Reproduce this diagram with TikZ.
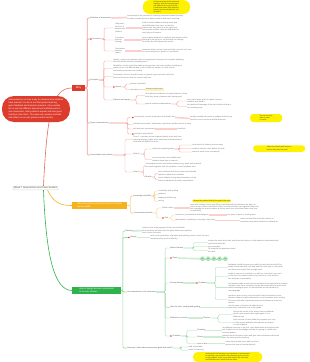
\documentclass[tikz,border=0pt]{standalone}
\usepackage{fontspec}
\setmainfont{Liberation Sans}
\definecolor{cred}{HTML}{DD3B2C}
\definecolor{lred}{HTML}{F3A19B}
\definecolor{pred}{HTML}{F9D0CC}
\definecolor{corg}{HTML}{F5B21F}
\definecolor{lorg}{HTML}{F8CF7E}
\definecolor{cgrn}{HTML}{2EB24B}
\definecolor{lgrn}{HTML}{9FD9A9}
\definecolor{pgrn}{HTML}{CDEDD2}
\definecolor{mgrn}{HTML}{B2E4B9}
\definecolor{cyel}{HTML}{FFF200}
\definecolor{cbeige}{HTML}{FCEFC2}
\definecolor{ctxt}{HTML}{737373}
\definecolor{clab}{HTML}{505050}
\newcommand\mytiny{\fontsize{1.9}{2.4}\selectfont}
\newcommand\mycall{\fontsize{1.8}{2.1}\selectfont}
\newcommand\conn[4][2]{\draw[#2,rounded corners=1.2pt] (#3.east) -- ++(#1,0) |- (#4.west);}
\tikzset{
 tx/.style={anchor=west,inner sep=0.15pt,font=\mytiny,text=ctxt,align=left},
 lb/.style={tx,text=clab},
 ic/.style={anchor=west,fill=cred,inner sep=0pt,minimum size=1.4pt,rounded corners=0.3pt},
 rb/.style={draw=lred,line width=0.4pt},
 rk/.style={draw=pred,line width=1.6pt},
 ob/.style={draw=lorg,line width=0.4pt},
 gb/.style={draw=lgrn,line width=0.4pt},
 gk/.style={draw=pgrn,line width=1.6pt},
 ycall/.style={fill=cyel,rounded corners=4pt,font=\mycall,text=black!75,align=left,inner sep=0.6pt},
 mainbox/.style={text=white,inner sep=0.8pt,align=left,font=\fontsize{2.2}{2.7}\selectfont},
 pill/.style={fill=mgrn,draw=lgrn,line width=0.2pt,rounded corners=1.6pt,minimum width=4.6pt,minimum height=4pt,inner sep=0.2pt,font=\fontsize{1.2}{1.4}\selectfont,text=cgrn!60!black},
}
\begin{document}
\begin{tikzpicture}[x=1pt,y=-1pt]
\useasboundingbox (0,0) rectangle (310,362);

% ---------- root and main branches ----------
\node[draw=black!15,fill=white,rounded corners=1pt,inner sep=1pt,font=\fontsize{2.5}{3}\selectfont,text=black!70] (root) at (35.5,188) {Week 7 Assessment and Case Studies};
\node[mainbox,fill=cred,font=\fontsize{2.6}{3}\selectfont,minimum width=13pt,minimum height=5.5pt,align=center] (why) at (78.5,88) {Why};
\node[mainbox,fill=corg,minimum width=55pt,minimum height=6.5pt,anchor=west] (org) at (72,205.5) {What should be assessed and which methods\\can be used?};
\node[mainbox,fill=cgrn,minimum width=49pt,minimum height=6.5pt,anchor=west] (grn) at (72,290.5) {How to design and use assessment\\in our own classes};

\draw[draw=cred!75,line width=0.6pt] ([xshift=8pt]root.north) .. controls (47,115) and (52,88) .. (why.west);
\draw[draw=corg,line width=0.6pt] ([xshift=12pt]root.south) .. controls (54,203) and (60,205.5) .. (org.west);
\draw[draw=cgrn,line width=0.6pt] ([xshift=8pt]root.south) .. controls (46,255) and (54,290.5) .. (grn.west);

\node[mainbox,fill=cred,rounded corners=12pt,minimum width=68pt,minimum height=26pt,font=\fontsize{2.2}{3}\selectfont] (note) at (36,109) {Assessment is not only a way to measure what students\\have learned; it is also a tool that guides teaching,\\gives feedback and motivates learners. Case studies\\let us see how different assessment methods work in\\real classrooms, what problems appear and how good\\teachers solve them. This week we compare methods\\and reflect on our own practice and its results.};

% ---------- red branch ----------
\node[ycall,minimum width=47pt,minimum height=13.6pt,rounded corners=6pt] (Y1) at (166.5,7) {Assessment should be planned\\together with the learning goals,\\not added at the end of a unit.\\Good tasks show both what the\\learner knows and what he can\\do with it.};

\node[lb] (A) at (90,18) {Definition of assessment};
\node[tx] (A1) at (127,17.5) {Assessment is the process of collecting information about learning\\in order to make decisions about students and about teaching.};
\conn{rb,line width=0.6pt}{why}{A}
\draw[rk] (A.east) -- (A1.west);

\node[ic] (Bi) at (90,39) {};
\node[lb] (B) at ([xshift=0.4pt]Bi.east) {Functions};
\conn{rb,line width=0.6pt}{why}{Bi}
\node[tx] (B1) at (115,28) {Diagnostic\\function of\\assessment\\(before)};
\node[tx] (B2) at (115,40) {Formative\\function\\(during)};
\node[tx] (B3) at (115,51) {Summative\\function\\(after)};
\conn[3]{rb}{B}{B1}
\conn[3]{rb}{B}{B2}
\conn[3]{rb}{B}{B3}
\node[tx] (T1) at (142,28) {finds out what students already know and\\what difficulties they have, so that the\\teacher can plan lessons at the right level\\and choose suitable materials and tasks for\\each group of learners};
\node[tx] (T2) at (142,40) {gives regular feedback to students and teachers while\\learning is still going on, so that both can change\\what they do and improve the results};
\node[tx] (T3) at (142,51) {measures what has been learned at the end of a unit, term\\or course and gives a grade or a certificate};
\draw[rk] (B1.east) -- (T1.west);
\draw[rk] (B2.east) -- (T2.west);
\draw[rk] (B3.east) -- (T3.west);

\node[lb] (C) at (90,80) {Principles};
\conn{rb,line width=0.6pt}{why}{C}
\node[tx] (D1) at (113,61) {Validity: a test must measure what it is supposed to measure, for example speaking\\skills should be tested by speaking tasks};
\node[tx] (D2) at (113,68.5) {Reliability: results should be stable and consistent; the same student should get a\\similar score on a different day or with a different marker, so clear criteria\\and marking schemes are needed};
\node[tx] (D3) at (113,76.5) {Practicality: the test should be easy to prepare, give and mark within the\\time and resources that the school really has};
\node[ic] (Di) at (113,87) {};
\node[lb] (D) at ([xshift=0.4pt]Di.east) {Impact};
\node[lb] (E) at (113,100) {Fairness and equity};
\conn[5]{rb}{C}{D1}
\conn[5]{rb}{C}{D2}
\conn[5]{rb}{C}{D3}
\conn[5]{rb}{C}{Di}
\conn[5]{rb}{C}{E}
\node[tx] (D4a) at (130,84) {positive washback};
\node[tx] (D4b) at (130,89.5) {motivation};
\conn[4]{rb}{D}{D4a}
\conn[4]{rb}{D}{D4b}
\node[tx,fill=cbeige,inner sep=0.8pt] (Y6) at (145,89.5) {learners study more};
\draw[rk] (D4b.east) -- (Y6.west);
\node[tx] (E1) at (145,95.5) {all students should have an equal chance to show\\what they know, whatever their background};
\node[tx] (E2) at (145,104) {special needs and adaptations};
\conn[6]{rb}{E}{E1}
\conn[6]{rb}{E}{E2}
\node[tx] (F1) at (187,101) {extra time, larger print or a quiet room for\\students who need it};
\node[tx] (F2) at (187,106.5) {the tasks and language of the test should not favour\\one cultural group};
\conn[6]{rb}{E2}{F1}
\conn[6]{rb}{E2}{F2}

\node[lb] (F) at (90,123) {Types of assessment};
\conn{rb,line width=0.6pt}{why}{F}
\node[ic] (G1i) at (132,117.5) {};
\node[tx] (G1) at ([xshift=0.4pt]G1i.east) {formal tests, exams and quizzes with fixed rules};
\node[tx] (G2) at (133,124.5) {informal assessment: observation, questions and discussion in class};
\node[tx] (G3) at (133,129) {self and peer assessment};
\node[ic] (G4i) at (132,134) {};
\node[tx] (G4) at ([xshift=0.4pt]G4i.east) {portfolios and projects};
\conn[19]{rb}{F}{G1i}
\conn[19]{rb}{F}{G2}
\conn[19]{rb}{F}{G3}
\conn[19]{rb}{F}{G4i}
\node[tx] (G1b) at (190,118.5) {usually marked with points or grades and they are\\used for school reports and final decisions};
\draw[rk] (G1.east) -- (G1b.west);
\node[ycall,anchor=west,minimum width=32pt,minimum height=8pt,rounded corners=3pt] (Y2) at (250,118) {Do not test only\\what is easy\\to mark!};
\node[tx] (G3b) at (177,129) {checklists};
\draw[rk] (G3.east) -- (G3b.west);

\node[lb] (H) at (90,155) {Case studies from schools};
\conn{rb,line width=0.6pt}{why}{H}
\node[tx] (H1) at (133,139.5) {Case 1: a primary school replaced weekly tests with short\\learning journals; pupils wrote what they had learned and\\what was still difficult for them};
\node[lb] (H2) at (133,154) {Case 2};
\node[lb] (H3) at (133,172) {Case 3};
\conn[12]{rb}{H}{H1}
\conn[12]{rb}{H}{H2}
\conn[12]{rb}{H}{H3}
\node[tx] (H2a) at (152,149) {rubrics for speaking tasks};
\node[tx] (H2b) at (152,159.5) {scores became more reliable and\\students knew how to improve};
\conn[5]{rb}{H2}{H2a}
\conn[5]{rb}{H2}{H2b}
\node[tx] (H2a1) at (192,145) {clear levels for fluency and accuracy};
\node[tx] (H2a2) at (192,148.5) {students see the rubric before the task};
\node[tx] (H2a3) at (192,152) {teachers mark more consistently};
\conn[5]{rb}{H2a}{H2a1}
\conn[5]{rb}{H2a}{H2a2}
\conn[5]{rb}{H2a}{H2a3}
\node[ycall,anchor=west,minimum width=52pt,minimum height=6.5pt,rounded corners=3pt] (Y3) at (253,148.5) {Share the criteria with learners\\before they start the work!};
\node[tx] (H3a) at (145,165.5) {A secondary school used online quizzes every week and looked at\\the results together with the students in short feedback talks};
\node[lb] (H3b) at (145,177) {Results};
\conn[4]{rb}{H3}{H3a}
\conn[4]{rb}{H3}{H3b}
\node[tx] (H3b1) at (158,173.5) {more students did their homework and asked\\questions about their mistakes};
\node[tx] (H3b2) at (158,179.5) {some students only guessed answers, so the\\teachers added short written explanations};
\conn[3]{rb}{H3b}{H3b1}
\conn[3]{rb}{H3b}{H3b2}

% ---------- orange branch ----------
\node[lb] (O1) at (133,196) {Knowledge and skills};
\node[lb] (O2) at (134,213) {Assessment methods};
\conn[3]{ob,line width=0.6pt}{org}{O1}
\conn[3]{ob,line width=0.6pt}{org}{O2}
\node[tx] (O1a) at (158,191) {vocabulary and spelling};
\node[tx] (O1b) at (158,194.5) {grammar};
\node[tx] (O1c) at (158,198) {reading and listening};
\node[tx] (O1d) at (158,201.5) {writing};
\conn[3]{ob}{O1}{O1a}
\conn[3]{ob}{O1}{O1b}
\conn[3]{ob}{O1}{O1c}
\conn[3]{ob}{O1}{O1d}
\node[tx] (O2a) at (162,208) {Written tasks};
\node[ic] (O2bi) at (162,218) {};
\node[lb] (O2b) at ([xshift=0.4pt]O2bi.east) {Oral};
\conn[4]{ob}{O2}{O2a}
\conn[4]{ob}{O2}{O2bi}
\node[ycall,anchor=west,rounded corners=1.5pt] (Y4) at (192,201) {Choose the method that fits the goal of the task};
\node[tx,font=\fontsize{1.9}{2.3}\selectfont] (O2at) at (190,208) {tests with multiple choice, gap filling, matching and short answers are quick to\\mark; essays, letters and reports show how well students can organise ideas and\\use language for a real purpose, but they need clear criteria and take more time\\to mark fairly};
\draw[rk] (O2a.east) -- (O2at.west);
\node[tx] (O2b1) at (175,215) {interviews, presentations and dialogues};
\node[tx] (O2b2) at (175,220.5) {observation of speaking in everyday class work};
\conn[3]{ob}{O2b}{O2b1}
\conn[3]{ob}{O2b}{O2b2}
\node[tx] (O2b1t) at (227,215) {role plays in pairs or small groups};
\node[tx] (O2b2t) at (240,220.5) {notes and checklists help the teacher to\\remember what each student can already do};
\draw[rk] (O2b1.east) -- (O2b1t.west);
\draw[rk] (O2b2.east) -- (O2b2t.west);

% ---------- green branch ----------
\node[lb] (GR1) at (125,231) {Planning};
\node[ic] (GR2i) at (128,237.5) {};
\node[lb] (GR2) at ([xshift=0.4pt]GR2i.east) {Design};
\node[lb] (K) at (127,292) {Use assessment in the classroom};
\node[lb] (GRL) at (127,348) {Summary: what makes assessment good and useful?};
\conn[1.5]{gb,line width=0.6pt}{grn}{GR1}
\conn[1.5]{gb,line width=0.6pt}{grn}{GR2i}
\conn[1.5]{gb,line width=0.6pt}{grn}{K}
\conn[1.5]{gb,line width=0.6pt}{grn}{GRL}
\node[tx] (GR1t) at (142,230.5) {start from the learning goals of the unit and decide\\what evidence will show that the goals have been reached;\\then choose the tasks};
\draw[gk] (GR1.east) -- (GR1t.west);
\node[tx] (GR2t) at (150,237.5) {write clear instructions, examples and marking criteria; check the time\\needed and the level of difficulty};
\draw[gk] (GR2.east) -- (GR2t.west);

\node[lb] (K1) at (170,248) {Before the task};
\node[ic] (K2i) at (170,258) {};
\node[lb] (K2) at ([xshift=0.4pt]K2i.east) {Steps};
\node[lb] (K3) at (170,283) {During the task};
\node[lb] (K4) at (170,307.3) {After the task: marking and grading};
\node[lb] (K5) at (170,318) {Reflection on results};
\node[ic] (K6i) at (170,336) {};
\node[lb] (K6) at ([xshift=0.4pt]K6i.east) {Problems};
\conn[9]{gb}{K}{K1}
\conn[9]{gb}{K}{K2i}
\conn[9]{gb}{K}{K3}
\conn[9]{gb}{K}{K4}
\conn[9]{gb}{K}{K5}
\conn[9]{gb}{K}{K6i}

\node[tx] (K1a) at (208,242.5) {explain the aims of the task and show the criteria, so that students understand what\\good work looks like};
\node[tx] (K1b) at (208,246.7) {give examples};
\node[tx] (K1c) at (208,250.5) {let students ask questions about\\the task};
\conn[10]{gb}{K1}{K1a}
\conn[10]{gb}{K1}{K1b}
\conn[10]{gb}{K1}{K1c}

\node[pill] (P1) at (202.5,258.8) {aims};
\node[pill] (P2) at (208.2,258.8) {task};
\node[pill] (P3) at (213.9,258.8) {mark};
\node[pill] (P4) at (219.6,258.8) {talk};
\node[pill] (P5) at (225.3,258.8) {next};
\draw[gk] (K2.east) -- (P1.west);
\draw[gb] (P1) -- (P2);
\draw[gb] (P2) -- (P3);
\draw[gb] (P3) -- (P4);
\draw[gb] (P4) -- (P5);

\node[ic] (K3bi) at (196,283) {};
\node[lb] (K3b) at ([xshift=0.4pt]K3bi.east) {Feedback};
\draw[gk] (K3.east) -- (K3bi.west);
\node[tx] (K3b1) at (228,267.5) {feedback should be given soon after the task and should tell the\\student what was done well and what the next step is; comments\\are often more useful than a single mark};
\node[tx] (K3b2) at (228,276.5) {students can use a checklist or a rubric to check their own work\\or the work of a partner before they hand it in to the teacher;\\this develops responsibility};
\node[tx] (K3b3) at (228,287.3) {the teacher walks around, listens and takes short notes about common\\mistakes; later these mistakes can be discussed with the whole class\\without naming anyone, so that students are not afraid to try\\new language};
\node[tx] (K3b4) at (228,299.5) {questions such as why, how and what if help the teacher to see\\whether students really understand or only remember facts; waiting\\a few seconds after a question gives more students a chance to\\answer};
\conn[8]{gb}{K3b}{K3b1}
\conn[8]{gb}{K3b}{K3b2}
\conn[8]{gb}{K3b}{K3b3}
\conn[8]{gb}{K3b}{K3b4}

\node[tx] (K4t) at (228,307.3) {use the same criteria for all students and\\write short comments next to the grade};
\draw[gk] (K4.east) -- (K4t.west);

\node[lb] (K5b) at (203,318) {Teacher};
\draw[gk] (K5.east) -- (K5b.west);
\node[tx] (K5b1) at (233,314.5) {look at the results of the whole class and decide\\which topics need to be taught again or in a\\different way};
\node[tx] (K5b2) at (233,322.5) {keep records of each student's progress over time\\so that reports and talks with parents are based\\on real evidence};
\conn[8]{gb}{K5b}{K5b1}
\conn[8]{gb}{K5b}{K5b2}

\node[lb] (K6a) at (197,330.5) {Cheating};
\node[lb] (K6b) at (197,337) {Stress};
\node[lb] (K6c) at (197,343.5) {Lack of time};
\conn[6]{gb}{K6}{K6a}
\conn[6]{gb}{K6}{K6b}
\conn[6]{gb}{K6}{K6c}
\node[tx] (K6at) at (222,330.5) {use different versions of the test, open book tasks and projects that\\ask students to use knowledge instead of copying it; explain why\\honesty matters};
\node[tx] (K6bt) at (222,337) {practise the test format in class and give clear information about the\\date, the tasks and the marking};
\node[tx] (K6ct) at (225,343.5) {share marking with peers and use short\\quizzes that can be checked quickly};
\draw[gk] (K6a.east) -- (K6at.west);
\draw[gk] (K6b.east) -- (K6bt.west);
\draw[gk] (K6c.east) -- (K6ct.west);

\node[tx] (GL1) at (188,347) {valid and reliable};
\node[tx] (GL2) at (188,350.2) {useful for learning};
\conn[8]{gb}{GRL}{GL1}
\conn[8]{gb}{GRL}{GL2}
\node[ycall,anchor=west,minimum width=69pt,minimum height=9.6pt,rounded corners=4pt] (Y5) at (193,357) {Assessment for learning is as important as assessment\\of learning: use results to help students grow, not only\\to give grades. Keep every task simple, fair and clear\\and talk about the results with the class.};
\end{tikzpicture}
\end{document}
